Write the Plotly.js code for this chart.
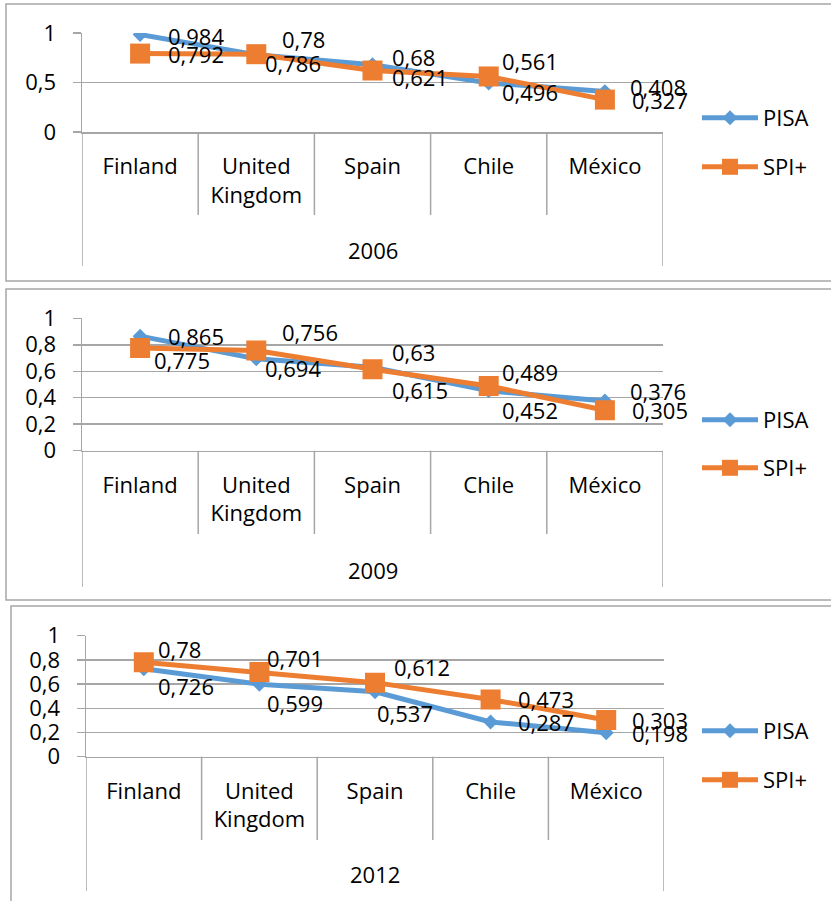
<!DOCTYPE html>
<html>
<head>
<meta charset="utf-8">
<script src="https://cdn.plot.ly/plotly-3.0.1.min.js"></script>
<style>
  html, body { margin: 0; padding: 0; background: #ffffff; }
  #chart { width: 831px; height: 901px; }
</style>
</head>
<body>
<div id="chart"></div>
<script>
// Countries compared in each year
const countries = ['Finland', 'United<br>Kingdom', 'Spain', 'Chile', 'México'];
const seriesNames = ['PISA', 'SPI+'];

// Index values per year
const years = ['2006', '2009', '2012'];
const pisa2006 = [0.984, 0.78, 0.68, 0.496, 0.408];
const spi2006  = [0.792, 0.786, 0.621, 0.561, 0.327];
const pisa2009 = [0.865, 0.694, 0.63, 0.452, 0.376];
const spi2009  = [0.775, 0.756, 0.615, 0.489, 0.305];
const pisa2012 = [0.726, 0.599, 0.537, 0.287, 0.198];
const spi2012  = [0.78, 0.701, 0.612, 0.473, 0.303];

const W = 831, H = 901;
const px = v => v / W;          // pixel -> paper x
const py = v => 1 - v / H;      // pixel -> paper y

const BLUE = '#5b9bd5', ORANGE = '#ed7d31';
const LINE = '#a6a6a6';
const FONT = 'Open Sans, sans-serif';
const FS = 22;

// Panel geometry (pixels) and label offsets [dx, dy] for each point
const panels = [
  {
    year: years[0], pisa: pisa2006, spi: spi2006, dtick: 0.5,
    box: [6, 4, 1200, 281], plot: [82, 663, 33, 132],
    dividerBottom: 215, axisBottom: 266, yearY: 250, legendY: [118, 167],
    pisaOff: [[26, 1], [24, -16], [17, -8], [11, 9], [23, -5]],
    spiOff:  [[26, 0], [7, 9], [17, 6], [11, -15], [25, 0]]
  },
  {
    year: years[1], pisa: pisa2009, spi: spi2009, dtick: 0.2,
    box: [6, 289, 1200, 600], plot: [82, 663, 318.3, 450.7],
    dividerBottom: 534, axisBottom: 587, yearY: 570, legendY: [420, 468],
    pisaOff: [[26, 0], [7, 9], [17, -15], [11, 19], [23, -10]],
    spiOff:  [[12, 12], [24, -19], [17, 21], [11, -14], [25, 0]]
  },
  {
    year: years[2], pisa: pisa2012, spi: spi2012, dtick: 0.2,
    box: [11, 606, 1200, 1200], plot: [86, 664, 635.7, 756.7],
    dividerBottom: 840, axisBottom: 891, yearY: 874, legendY: [731, 780],
    pisaOff: [[12, 17], [6, 19], [0, 21], [25, 0], [24, 0]],
    spiOff:  [[12, -13], [6, -14], [17, -16], [25, 0], [24, 0]]
  }
];

const fmt = v => String(v).replace('.', ',');

const traces = [];
const shapes = [];
const annotations = [];
const layout = {
  width: W, height: H,
  margin: { l: 0, r: 0, t: 0, b: 0 },
  paper_bgcolor: '#ffffff', plot_bgcolor: 'rgba(0,0,0,0)',
  font: { family: FONT, size: FS, color: '#000000' },
  separators: ', ',
  showlegend: true,
  shapes: shapes, annotations: annotations
};

panels.forEach((p, i) => {
  const n = i + 1;
  const xa = n === 1 ? 'x' : 'x' + n;
  const ya = n === 1 ? 'y' : 'y' + n;
  const xKey = n === 1 ? 'xaxis' : 'xaxis' + n;
  const yKey = n === 1 ? 'yaxis' : 'yaxis' + n;
  const legA = 2 * i === 0 ? 'legend' : 'legend' + (2 * i + 1);
  const legB = 'legend' + (2 * i + 2);
  const [pl, pr, pt, pb] = p.plot;

  layout[xKey] = {
    domain: [px(pl), px(pr)], anchor: ya,
    type: 'category', categoryorder: 'array', categoryarray: countries,
    range: [-0.5, 4.5], fixedrange: true,
    showgrid: false, zeroline: false,
    showline: true, linecolor: LINE, linewidth: 1.5,
    ticks: '', ticklabelstandoff: 14,
    tickfont: { family: FONT, size: FS, color: '#000000' }
  };
  layout[yKey] = {
    domain: [py(pb), py(pt)], anchor: xa,
    range: [0, 1], dtick: p.dtick, tick0: 0, fixedrange: true,
    showgrid: true, gridcolor: LINE, gridwidth: 1.5,
    zeroline: false,
    showline: true, linecolor: LINE, linewidth: 1.5,
    ticks: 'outside', ticklen: 8, tickwidth: 1.5, tickcolor: LINE,
    ticklabelstandoff: 12,
    tickfont: { family: FONT, size: FS, color: '#000000' }
  };

  traces.push({
    type: 'scatter', mode: 'lines+markers', name: seriesNames[0],
    x: countries, y: p.pisa, xaxis: xa, yaxis: ya, legend: legA,
    line: { color: BLUE, width: 5 },
    marker: { symbol: 'diamond', size: 11.5, color: BLUE },
    hoverinfo: 'skip'
  });
  traces.push({
    type: 'scatter', mode: 'lines+markers', name: seriesNames[1],
    x: countries, y: p.spi, xaxis: xa, yaxis: ya, legend: legB,
    line: { color: ORANGE, width: 5 },
    marker: { symbol: 'square', size: 20, color: ORANGE },
    hoverinfo: 'skip'
  });

  [[legA, p.legendY[0]], [legB, p.legendY[1]]].forEach(([key, yy]) => {
    layout[key] = {
      x: px(697), y: py(yy), xanchor: 'left', yanchor: 'middle',
      itemwidth: 56, bgcolor: 'rgba(0,0,0,0)', borderwidth: 0,
      font: { family: FONT, size: FS, color: '#000000' }
    };
  });

  // value labels
  const addLabels = (vals, offs) => vals.forEach((v, k) => {
    annotations.push({
      xref: xa, yref: ya, x: countries[k], y: v,
      text: fmt(v), showarrow: false,
      xanchor: 'left', yanchor: 'middle',
      xshift: offs[k][0], yshift: -offs[k][1],
      font: { family: FONT, size: FS, color: '#000000' }
    });
  });
  addLabels(p.pisa, p.pisaOff);
  addLabels(p.spi, p.spiOff);

  // year label under the category band
  annotations.push({
    xref: xa, yref: 'paper', x: 2, y: py(p.yearY),
    text: p.year, showarrow: false, xanchor: 'center', yanchor: 'middle',
    font: { family: FONT, size: FS, color: '#000000' }
  });

  // chart frame
  const [bx0, by0, bx1, by1] = p.box;
  shapes.push({
    type: 'rect', xref: 'paper', yref: 'paper',
    x0: px(bx0), x1: px(bx1), y0: py(by1), y1: py(by0),
    line: { color: LINE, width: 1.5 }, fillcolor: 'rgba(0,0,0,0)', layer: 'below'
  });

  // category separators and outer band edges
  for (let k = 0; k <= countries.length; k++) {
    const edge = k === 0 || k === countries.length;
    shapes.push({
      type: 'line', xref: xa, yref: 'paper',
      x0: k - 0.5, x1: k - 0.5,
      y0: py(pb), y1: py(edge ? p.axisBottom : p.dividerBottom),
      line: { color: LINE, width: 1.5 }
    });
  }
});

Plotly.newPlot('chart', traces, layout, { displayModeBar: false, staticPlot: true });
</script>
</body>
</html>
